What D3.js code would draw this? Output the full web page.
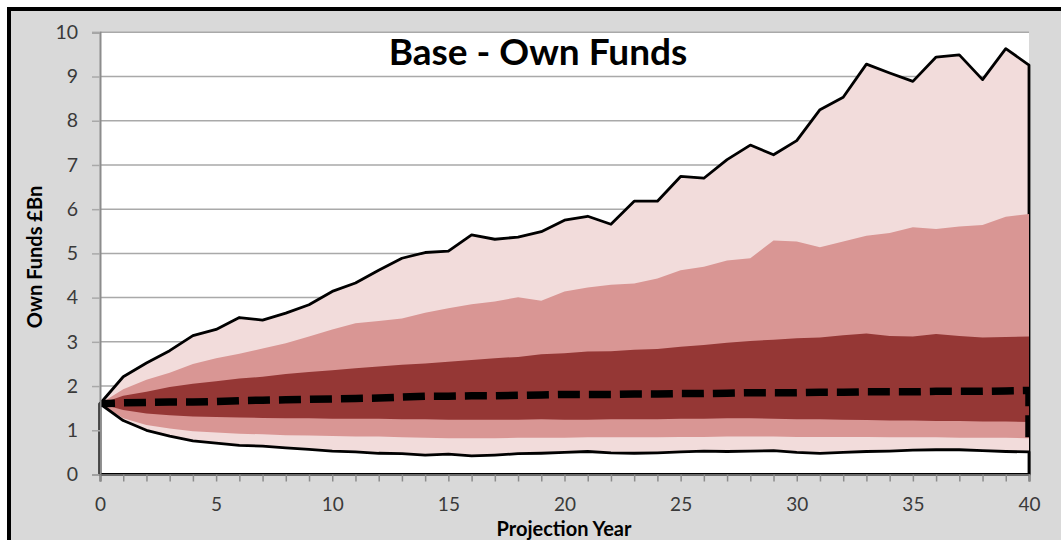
<!DOCTYPE html>
<html>
<head>
<meta charset="utf-8">
<script src="https://cdn.jsdelivr.net/npm/d3@7"></script>
<style>
  html, body { margin: 0; padding: 0; background: #ffffff; }
  svg { display: block; }
</style>
</head>
<body>
<svg id="chart" width="1061" height="540"></svg>
<script>
// ---------- DATA ----------
const years = d3.range(0, 41);
const yTicks = [0, 1, 2, 3, 4, 5, 6, 7, 8, 9, 10];
const xLabelYears = [0, 5, 10, 15, 20, 25, 30, 35, 40];

const maxVals = [1.6, 2.21, 2.52, 2.80, 3.14, 3.28, 3.55, 3.49, 3.65, 3.84, 4.14, 4.33, 4.62, 4.89, 5.02, 5.05, 5.42, 5.32, 5.37, 5.49, 5.75, 5.84, 5.66, 6.18, 6.18, 6.74, 6.70, 7.12, 7.45, 7.23, 7.55, 8.25, 8.53, 9.28, 9.08, 8.89, 9.44, 9.49, 8.93, 9.63, 9.26];
const p95 = [1.6, 1.93, 2.14, 2.30, 2.50, 2.63, 2.73, 2.85, 2.97, 3.12, 3.28, 3.42, 3.47, 3.53, 3.66, 3.76, 3.85, 3.91, 4.01, 3.93, 4.14, 4.23, 4.29, 4.32, 4.43, 4.62, 4.70, 4.84, 4.89, 5.29, 5.27, 5.14, 5.27, 5.40, 5.46, 5.59, 5.55, 5.61, 5.64, 5.83, 5.89];
const p75 = [1.6, 1.78, 1.87, 1.98, 2.05, 2.11, 2.17, 2.21, 2.27, 2.32, 2.36, 2.40, 2.44, 2.48, 2.51, 2.55, 2.59, 2.63, 2.66, 2.72, 2.74, 2.78, 2.79, 2.82, 2.84, 2.89, 2.93, 2.98, 3.02, 3.05, 3.08, 3.10, 3.15, 3.19, 3.13, 3.12, 3.18, 3.13, 3.10, 3.11, 3.12];
const median = [1.6, 1.62, 1.63, 1.64, 1.64, 1.65, 1.67, 1.68, 1.69, 1.70, 1.71, 1.72, 1.73, 1.75, 1.77, 1.77, 1.78, 1.78, 1.79, 1.80, 1.81, 1.81, 1.81, 1.82, 1.82, 1.83, 1.83, 1.84, 1.85, 1.85, 1.85, 1.86, 1.86, 1.87, 1.87, 1.87, 1.88, 1.88, 1.88, 1.89, 1.90];
const p25 = [1.6, 1.46, 1.38, 1.34, 1.31, 1.30, 1.29, 1.28, 1.27, 1.27, 1.26, 1.26, 1.26, 1.25, 1.25, 1.24, 1.24, 1.24, 1.24, 1.25, 1.24, 1.24, 1.25, 1.25, 1.25, 1.26, 1.26, 1.27, 1.27, 1.26, 1.25, 1.25, 1.24, 1.23, 1.22, 1.22, 1.21, 1.21, 1.20, 1.20, 1.19];
const p5 = [1.6, 1.27, 1.12, 1.04, 0.98, 0.95, 0.92, 0.91, 0.89, 0.88, 0.87, 0.86, 0.86, 0.84, 0.83, 0.82, 0.82, 0.82, 0.83, 0.83, 0.83, 0.84, 0.84, 0.84, 0.84, 0.85, 0.85, 0.86, 0.86, 0.86, 0.85, 0.85, 0.85, 0.85, 0.84, 0.84, 0.84, 0.83, 0.83, 0.83, 0.82];
const minVals = [1.6, 1.22, 1.00, 0.87, 0.76, 0.71, 0.66, 0.64, 0.60, 0.57, 0.53, 0.51, 0.48, 0.47, 0.44, 0.46, 0.42, 0.44, 0.47, 0.48, 0.50, 0.52, 0.49, 0.48, 0.49, 0.51, 0.53, 0.52, 0.53, 0.54, 0.50, 0.48, 0.50, 0.52, 0.53, 0.55, 0.56, 0.56, 0.54, 0.52, 0.51];

const titleText = "Base - Own Funds";
const yTitle = "Own Funds £Bn";
const xTitle = "Projection Year";

// ---------- LAYOUT ----------
const W = 1061, H = 540;
const plot = { left: 100, right: 1029, top: 32.3, bottom: 474.5 };
const FONT = "Lato, 'Open Sans', 'DejaVu Sans', sans-serif";
const C = { light: "#f2dcdb", mid: "#d99694", dark: "#953735" };

const svg = d3.select("#chart");

// outer chart frame
svg.append("rect").attr("x", 9).attr("y", 9).attr("width", W).attr("height", H)
  .attr("fill", "#d9d9d9").attr("stroke", "#000").attr("stroke-width", 4);

const x = d3.scaleLinear().domain([0, 40]).range([plot.left, plot.right]);
const y = d3.scaleLinear().domain([0, 10]).range([plot.bottom, plot.top]);

// plot area
svg.append("rect").attr("x", plot.left).attr("y", plot.top)
  .attr("width", plot.right - plot.left).attr("height", plot.bottom - plot.top)
  .attr("fill", "#fff");

// gridlines
svg.append("g").selectAll("line").data(yTicks.filter(d => d > 0)).join("line")
  .attr("x1", plot.left).attr("x2", plot.right)
  .attr("y1", d => y(d)).attr("y2", d => y(d))
  .attr("stroke", "#a9a9a9").attr("stroke-width", 1.5);

svg.append("defs").append("clipPath").attr("id", "clipPlot")
  .append("rect").attr("x", plot.left).attr("y", plot.top - 5)
  .attr("width", plot.right - plot.left).attr("height", plot.bottom - plot.top + 5);

const area = d3.area().x((d, i) => x(years[i])).y0(y(0)).y1(d => y(d));

const layers = svg.append("g");
function band(vals, fill, stroke) {
  layers.append("path").datum(vals).attr("d", area)
    .attr("fill", fill)
    .attr("stroke", stroke || "none")
    .attr("stroke-width", stroke ? 2.8 : 0)
    .attr("stroke-linejoin", "round");
}
band(maxVals, C.light, "#000");
band(p95, C.mid);
band(p75, C.dark);
band(p25, C.mid);

// median dashed line (series outline drops to baseline at the final year)
const medPts = median.map((v, i) => [x(years[i]), y(v)]);
medPts.push([x(years[years.length - 1]), y(0)]);
layers.append("path").attr("d", d3.line()(medPts))
  .attr("clip-path", "url(#clipPlot)")
  .attr("fill", "none").attr("stroke", "#000").attr("stroke-width", 7.5)
  .attr("stroke-dasharray", "22,9").attr("stroke-dashoffset", 7);

band(p5, C.light);
band(minVals, "#fff", "#000");

// y axis
const yAxis = svg.append("g").attr("transform", `translate(${plot.left},0)`)
  .call(d3.axisLeft(y).tickValues(yTicks).tickSize(8).tickPadding(14).tickFormat(d3.format("d")));
yAxis.select(".domain").attr("stroke", "#8c8c8c").attr("stroke-width", 2);
yAxis.selectAll(".tick line").attr("stroke", "#a9a9a9").attr("stroke-width", 1.5);
yAxis.selectAll("text").attr("font-family", FONT).attr("font-size", 19.5).attr("fill", "#3a3a3a");

// x axis
const xAxis = svg.append("g").attr("transform", `translate(0,${plot.bottom})`)
  .call(d3.axisBottom(x).tickValues(years).tickSize(7)
    .tickFormat(d => xLabelYears.includes(d) ? String(d) : ""));
xAxis.select(".domain").attr("stroke", "#6a6a6a").attr("stroke-width", 2.2);
xAxis.selectAll(".tick line").attr("stroke", "#8c8c8c").attr("stroke-width", 1.5);
xAxis.selectAll("text").attr("font-family", FONT).attr("font-size", 19).attr("fill", "#3a3a3a")
  .attr("dy", null).attr("y", 36.5);

// titles
svg.append("text").attr("x", 538).attr("y", 65).attr("text-anchor", "middle")
  .attr("font-family", FONT).attr("font-weight", 700).attr("font-size", 37)
  .attr("fill", "#000").text(titleText);

svg.append("text").attr("transform", "translate(42,257) rotate(-90)")
  .attr("text-anchor", "middle").attr("font-family", FONT).attr("font-weight", 700)
  .attr("font-size", 20).attr("fill", "#000").text(yTitle);

svg.append("text").attr("x", 564).attr("y", 535.5).attr("text-anchor", "middle")
  .attr("font-family", FONT).attr("font-weight", 700).attr("font-size", 20)
  .attr("fill", "#000").text(xTitle);
</script>
</body>
</html>
